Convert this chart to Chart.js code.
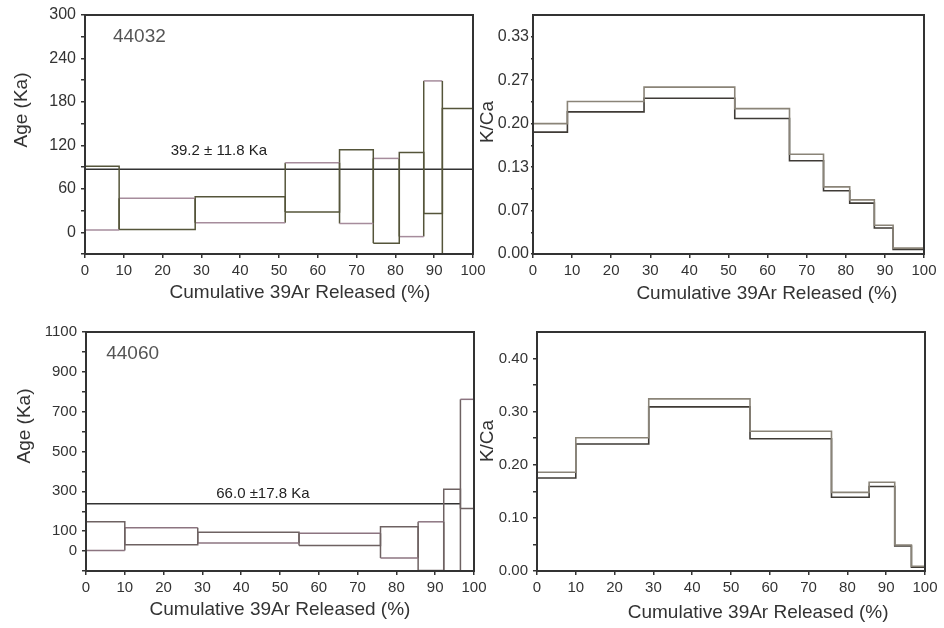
<!DOCTYPE html>
<html>
<head>
<meta charset="utf-8">
<script src="https://cdn.jsdelivr.net/npm/chart.js@4.4.1/dist/chart.umd.min.js"></script>
<style>
  body { margin: 0; background: #fff; }
  #wrap { position: relative; width: 944px; height: 628px; overflow: hidden; }
  canvas { position: absolute; }
</style>
</head>
<body>
<div id="wrap">
  <canvas id="age1" width="500" height="305" style="left:0px;top:0px"></canvas>
  <canvas id="kca1" width="474" height="305" style="left:470px;top:0px"></canvas>
  <canvas id="age2" width="500" height="323" style="left:0px;top:305px"></canvas>
  <canvas id="kca2" width="474" height="323" style="left:470px;top:305px"></canvas>
</div>
<script>
Chart.defaults.font.family = '"Liberation Sans", Arial, sans-serif';
Chart.defaults.color = '#333';
Chart.defaults.animation = false;

// sample 44032 - step boundaries (cumulative 39Ar %)
const steps44032 = [0, 8.8, 28.4, 51.6, 65.6, 74.3, 81.0, 87.3, 92.1, 100];
const ageHi44032 = [91, 47, 49, 96, 114, 102, 110, 209, 171];
const ageLo44032 = [3, 4, 13, 28, 12, -15, -6, 26, -60];
const plateau44032 = 87;
const kcaHi44032 = [0.200, 0.234, 0.256, 0.223, 0.153, 0.103, 0.083, 0.044, 0.009];
const kcaLo44032 = [0.187, 0.218, 0.239, 0.208, 0.143, 0.097, 0.078, 0.040, 0.007];

// sample 44060
const steps44060 = [0, 10.0, 28.8, 54.9, 75.9, 85.6, 92.2, 96.5, 100];
const ageHi44060 = [147, 117, 94, 90, 122, 147, 311, 762];
const ageLo44060 = [3, 32, 40, 28, -35, -97, -150, 214];
const plateau44060 = 238;
const kcaHi44060 = [0.186, 0.251, 0.324, 0.263, 0.148, 0.167, 0.049, 0.009];
const kcaLo44060 = [0.175, 0.239, 0.309, 0.249, 0.139, 0.159, 0.047, 0.007];

// tick values and labels
const xTicks = [0, 10, 20, 30, 40, 50, 60, 70, 80, 90, 100];
const ageTicks44032 = [-30, 0, 30, 60, 90, 120, 150, 180, 210, 240, 270, 300];
const ageTickLabels44032 = ['', '0', '', '60', '', '120', '', '180', '', '240', '', '300'];
const kcaTicks44032 = [0, 0.0333, 0.0667, 0.1, 0.1333, 0.1667, 0.2, 0.2333, 0.2667, 0.3, 0.3333];
const kcaTickLabels44032 = ['0.00', '', '0.07', '', '0.13', '', '0.20', '', '0.27', '', '0.33'];
const ageTicks44060 = [-100, 0, 100, 200, 300, 400, 500, 600, 700, 800, 900, 1000, 1100];
const ageTickLabels44060 = ['', '0', '100', '', '300', '', '500', '', '700', '', '900', '', '1100'];
const kcaTicks44060 = [0, 0.05, 0.1, 0.15, 0.2, 0.25, 0.3, 0.35, 0.4];
const kcaTickLabels44060 = ['0.00', '', '0.10', '', '0.20', '', '0.30', '', '0.40'];

const OLIVE = '#55553a';
const MAUVE = '#a68c9c';
const DARK = '#333';
const FONT = '"Liberation Sans", Arial, sans-serif';

// one closed rectangle per heating step
function boxDatasets(steps, hi, lo, topA, topB, side) {
  return hi.map((h, i) => {
    const top = i % 2 === 0 ? topA : topB;
    const bottom = i % 2 === 0 ? topB : topA;
    const cols = [side, top, side, bottom];
    return {
      data: [
        {x: steps[i], y: lo[i]}, {x: steps[i], y: h},
        {x: steps[i + 1], y: h}, {x: steps[i + 1], y: lo[i]},
        {x: steps[i], y: lo[i]}
      ],
      showLine: true, borderWidth: 1.5, pointRadius: 0, borderColor: side,
      segment: { borderColor: c => cols[c.p0DataIndex] }
    };
  });
}

// value i holds from steps[i] to steps[i+1]
function stepDataset(steps, vals, color) {
  return {
    data: steps.map((x, i) => ({x: x, y: vals[Math.min(i, vals.length - 1)]})),
    showLine: true, stepped: 'before', borderWidth: 1.6, pointRadius: 0, borderColor: color
  };
}

function makePanel(id, p) {
  const notesPlugin = {
    id: 'notes',
    afterDatasetsDraw(chart) {
      const {ctx, chartArea: a, scales} = chart;
      ctx.save();
      ctx.strokeStyle = DARK;
      ctx.lineWidth = 2;
      ctx.strokeRect(a.left, a.top, a.right - a.left, a.bottom - a.top);
      ctx.textBaseline = 'middle';
      (p.notes || []).forEach(n => {
        ctx.font = n.size + 'px ' + FONT;
        ctx.fillStyle = n.color;
        ctx.textAlign = n.align;
        ctx.fillText(n.text, scales.x.getPixelForValue(n.x), scales.y.getPixelForValue(n.y));
      });
      ctx.font = '19px ' + FONT;
      ctx.fillStyle = DARK;
      ctx.textAlign = 'center';
      ctx.fillText('Cumulative 39Ar Released (%)', scales.x.getPixelForValue(p.xTitleX), a.bottom + p.xTitleDy);
      ctx.translate(p.yTitleX, p.yTitleY);
      ctx.rotate(-Math.PI / 2);
      ctx.fillText(p.yTitle, 0, 0);
      ctx.restore();
    }
  };
  return new Chart(document.getElementById(id), {
    type: 'scatter',
    data: { datasets: p.datasets },
    options: {
      responsive: false,
      layout: { padding: { left: 0, top: p.padTop, right: p.padRight, bottom: 0 } },
      plugins: { legend: { display: false }, tooltip: { enabled: false } },
      scales: {
        x: {
          type: 'linear', min: 0, max: 100,
          afterBuildTicks: s => { s.ticks = xTicks.map(v => ({value: v})); },
          afterFit: s => { s.height = p.xHeight; },
          ticks: { autoSkip: false, maxRotation: 0, padding: 4, font: { size: 15 }, color: DARK },
          grid: { drawOnChartArea: false, tickLength: 4, color: DARK, lineWidth: 1.5 },
          border: { display: false }
        },
        y: {
          type: 'linear', min: p.yMin, max: p.yMax,
          afterBuildTicks: s => { s.ticks = p.yTicks.map(v => ({value: v})); },
          afterFit: s => { s.width = p.yWidth; },
          ticks: { autoSkip: false, padding: p.yTickPad, font: { size: p.yTickSize }, color: DARK,
                   callback: (v, i) => p.yLabels[i] },
          grid: { drawOnChartArea: false, tickLength: p.yTickLen, color: DARK, lineWidth: 1.5 },
          border: { display: false }
        }
      }
    },
    plugins: [notesPlugin]
  });
}

makePanel('age1', {
  yMin: -30, yMax: 300, yTicks: ageTicks44032, yLabels: ageTickLabels44032,
  yTickPad: 5, yTickLen: 4, yTickSize: 16,
  yTitle: 'Age (Ka)', yTitleX: 22, yTitleY: 110,
  yWidth: 85, xHeight: 51, padTop: 15, padRight: 27,
  xTitleX: 55.4, xTitleDy: 39,
  datasets: [
    ...boxDatasets(steps44032, ageHi44032, ageLo44032, OLIVE, MAUVE, OLIVE),
    { data: [{x: 0, y: plateau44032}, {x: 100, y: plateau44032}], showLine: true,
      borderWidth: 1.5, pointRadius: 0, borderColor: DARK }
  ],
  notes: [
    { text: '44032', x: 7.2, y: 270, size: 19, color: '#555', align: 'left' },
    { text: '39.2 \u00b1 11.8 Ka', x: 34.5, y: 113, size: 15, color: '#222', align: 'center' }
  ]
});

makePanel('kca1', {
  yMin: 0, yMax: 0.3667, yTicks: kcaTicks44032, yLabels: kcaTickLabels44032,
  yTickPad: 2, yTickLen: 2, yTickSize: 16,
  yTitle: 'K/Ca', yTitleX: 18, yTitleY: 122,
  yWidth: 63, xHeight: 51, padTop: 15, padRight: 20,
  xTitleX: 59.8, xTitleDy: 40,
  datasets: [
    stepDataset(steps44032, kcaHi44032, '#8a8478'),
    stepDataset(steps44032, kcaLo44032, '#3f3b36')
  ]
});

makePanel('age2', {
  yMin: -100, yMax: 1100, yTicks: ageTicks44060, yLabels: ageTickLabels44060,
  yTickPad: 5, yTickLen: 4, yTickSize: 15,
  yTitle: 'Age (Ka)', yTitleX: 25, yTitleY: 121,
  yWidth: 86, xHeight: 57, padTop: 27, padRight: 26,
  xTitleX: 50, xTitleDy: 39,
  datasets: [
    ...boxDatasets(steps44060, ageHi44060, ageLo44060, '#6e6262', '#8c7480', '#6e6262'),
    { data: [{x: 0, y: plateau44060}, {x: 96.5, y: plateau44060}], showLine: true,
      borderWidth: 1.5, pointRadius: 0, borderColor: DARK }
  ],
  notes: [
    { text: '44060', x: 5.2, y: 990, size: 19, color: '#555', align: 'left' },
    { text: '66.0 \u00b117.8 Ka', x: 45.6, y: 285, size: 15, color: '#222', align: 'center' }
  ]
});

makePanel('kca2', {
  yMin: 0, yMax: 0.45, yTicks: kcaTicks44060, yLabels: kcaTickLabels44060,
  yTickPad: 5, yTickLen: 4, yTickSize: 15,
  yTitle: 'K/Ca', yTitleX: 18, yTitleY: 136,
  yWidth: 67, xHeight: 57, padTop: 27, padRight: 19,
  xTitleX: 57, xTitleDy: 42,
  datasets: [
    stepDataset(steps44060, kcaHi44060, '#8a8478'),
    stepDataset(steps44060, kcaLo44060, '#3f3b36')
  ]
});
</script>
</body>
</html>
